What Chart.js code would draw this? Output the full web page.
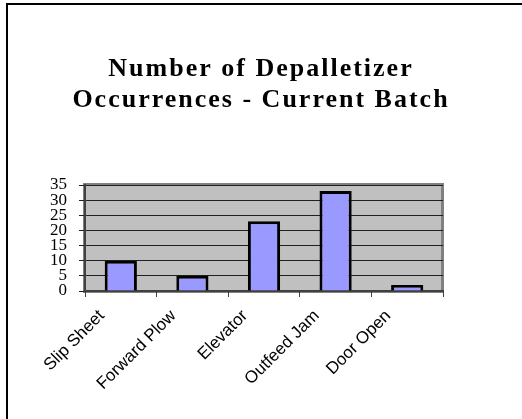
<!DOCTYPE html>
<html>
<head>
<meta charset="utf-8">
<script src="https://cdn.jsdelivr.net/npm/chart.js@4"></script>
<style>
  html, body { margin: 0; padding: 0; background: #ffffff; }
  #wrap { width: 522px; height: 419px; position: relative; }
</style>
</head>
<body>
<div id="wrap"><canvas id="c" width="522" height="419"></canvas></div>
<script>
const categories = ['Slip Sheet', 'Forward Plow', 'Elevator', 'Outfeed Jam', 'Door Open'];
const occurrences = [10, 5, 23, 33, 2];
const titleLines = ['Number of Depalletizer', 'Occurrences - Current Batch'];
const yTicks = [0, 5, 10, 15, 20, 25, 30, 35];

const framePlugin = {
  id: 'frame',
  beforeDraw(chart) {
    const ctx = chart.ctx, a = chart.chartArea;
    ctx.save();
    ctx.fillStyle = '#ffffff';
    ctx.fillRect(0, 0, chart.width, chart.height);
    ctx.strokeStyle = '#000000';
    ctx.lineWidth = 2;
    ctx.strokeRect(7, 4, chart.width + 20, chart.height + 20);
    ctx.fillStyle = '#c0c0c0';
    ctx.fillRect(a.left, a.top, a.right - a.left, a.bottom - a.top);
    ctx.strokeStyle = '#808080';
    ctx.lineWidth = 3;
    ctx.strokeRect(a.left - 0.5, a.top - 0.5, a.right - a.left, a.bottom - a.top + 1);
    ctx.restore();

    // title: centre it on the whole page and add letter spacing
    if (chart.titleBlock && !chart.titleBlock._spaced) {
      const tb = chart.titleBlock;
      const orig = tb.draw;
      tb.draw = function () {
        const c = chart.ctx;
        c.save();
        try { c.letterSpacing = '2px'; } catch (e) {}
        c.translate(chart.width / 2 - (this.left + this.right) / 2, 0);
        orig.apply(this, arguments);
        c.restore();
      };
      tb._spaced = true;
    }

    // shift rotated category labels like the original
    const xs = chart.scales.x;
    const items = xs.getLabelItems();
    if (!items._shifted) {
      items.forEach(it => {
        it.options.translation[0] -= 19;
        it.options.translation[1] += 7;
      });
      items._shifted = true;
    }
  }
};

new Chart(document.getElementById('c'), {
  type: 'bar',
  data: {
    labels: categories,
    datasets: [{
      data: occurrences,
      backgroundColor: '#9999ff',
      borderColor: '#000000',
      borderWidth: { top: 3, left: 3, right: 3, bottom: 0 },
      borderSkipped: false,
      barPercentage: 0.45,
      categoryPercentage: 1.0
    }]
  },
  options: {
    responsive: false,
    animation: false,
    layout: { padding: { left: 0, right: 79, top: 0, bottom: 0 } },
    plugins: {
      legend: { display: false },
      tooltip: { enabled: false },
      title: {
        display: true,
        text: titleLines,
        color: '#000000',
        font: { family: 'Liberation Serif', size: 26, weight: 'bold', lineHeight: '31px' },
        padding: { top: 54, bottom: 69 }
      }
    },
    scales: {
      x: {
        grid: { display: true, offset: true, drawOnChartArea: false, drawTicks: true, tickLength: 6, color: '#404040', lineWidth: 1 },
        border: { display: true, color: '#404040', width: 2 },
        ticks: {
          color: '#000000',
          font: { family: 'Liberation Sans', size: 17 },
          minRotation: 45, maxRotation: 45, autoSkip: false, padding: 2
        },
        afterFit(s) { s.height = 128; }
      },
      y: {
        min: 0, max: 35,
        afterBuildTicks(s) { s.ticks = yTicks.map(v => ({ value: v })); },
        grid: { display: true, drawTicks: true, tickLength: 6, color: '#202020', lineWidth: 1 },
        border: { display: true, color: '#404040', width: 2 },
        ticks: {
          color: '#000000',
          font: { family: 'Liberation Serif', size: 17 },
          padding: 12,
          autoSkip: false
        },
        afterFit(s) { s.width = 85; }
      }
    }
  },
  plugins: [framePlugin]
});
</script>
</body>
</html>
